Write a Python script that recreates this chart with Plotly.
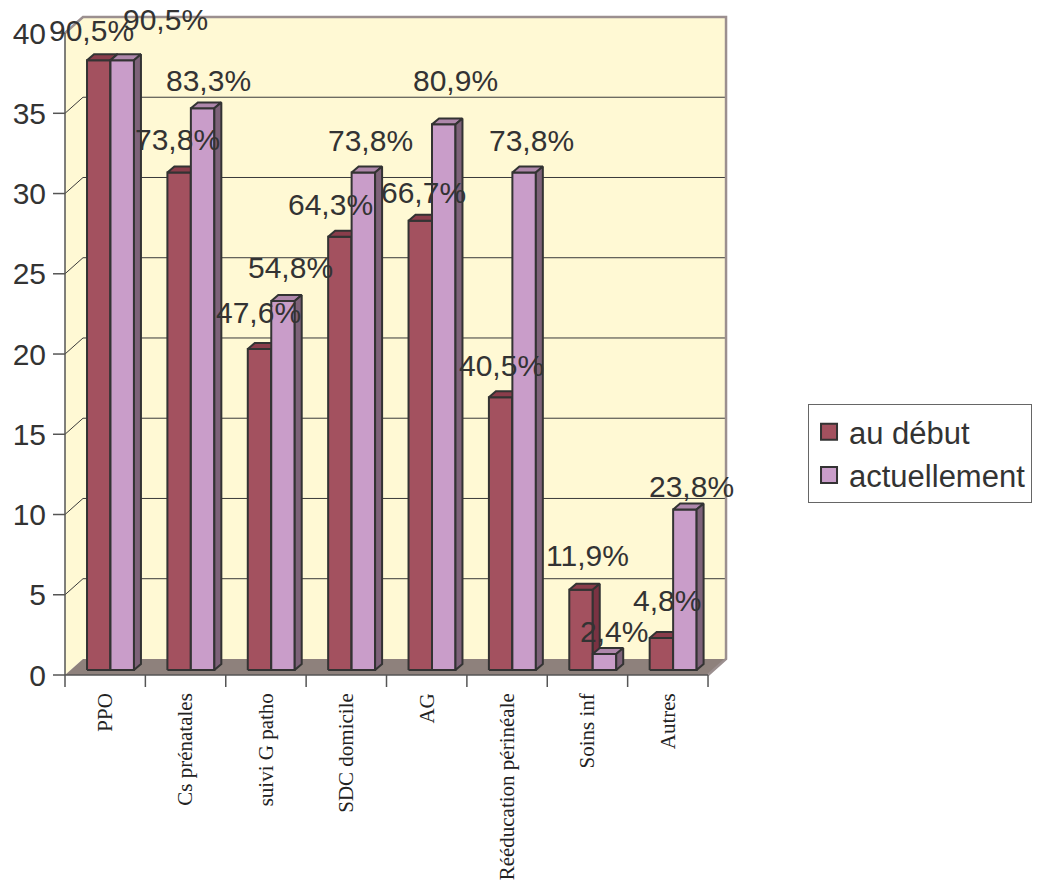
import plotly.graph_objects as go

# ---- data -------------------------------------------------------------
CATEGORIES = ["PPO", "Cs prénatales", "suivi G patho", "SDC domicile", "AG",
              "Rééducation périnéale", "Soins inf", "Autres"]
AU_DEBUT = [38, 31, 20, 27, 28, 17, 5, 2]
ACTUELLEMENT = [38, 35, 23, 31, 34, 31, 1, 10]
PCT_DEBUT = ["90,5%", "73,8%", "47,6%", "64,3%", "66,7%", "40,5%", "11,9%", "4,8%"]
PCT_ACTUEL = ["90,5%", "83,3%", "54,8%", "73,8%", "80,9%", "73,8%", "2,4%", "23,8%"]
Y_TICKS = [0, 5, 10, 15, 20, 25, 30, 35, 40]
SERIES = ["au début", "actuellement"]

# ---- style ------------------------------------------------------------
WALL = "#FFF9D4"
FLOOR = "#8E817C"
EDGE = "#9B8F8F"
OUTLINE = "#333333"
TEXT = "#333333"
FACE = {
    0: dict(front="#A3515F", top="#8A3D4B", side="#7A3242"),
    1: dict(front="#C99DC9", top="#AE87AB", side="#7E6279"),
}
# pixel nudges of the percentage labels (début, actuellement)
NUDGE = [
    [(-13, -2), (37, 9)], [(-8, 1), (0, -4)], [(-7, 5), (2, 1)], [(-15, 0), (1, 0)],
    [(-3, -4), (6, 12)], [(-5, 0), (1, 0)], [(0, 2), (4, -10)], [(0, 5), (1, -9)],
]

# ---- 3-D geometry (data units) ---------------------------------------
N = len(CATEGORIES)
YMAX = Y_TICKS[-1]
DX, DY = 0.224, 1.0        # depth of the walls / floor
FX, FY = 0.069, 0.31       # depth at which the bar fronts stand
TX, TY = 0.087, 0.37       # depth of a bar
BAR_OFF, BW = 0.205, 0.292
TICK_X = 12 / 80.37
TICK_Y = 12 / 16.05

fig = go.Figure()


def poly(points, fill=None, line_color=None, width=0):
    xs, ys = [], []
    for shape in points:
        closed = list(shape) + [shape[0]]
        xs += [p[0] for p in closed] + [None]
        ys += [p[1] for p in closed] + [None]
    fig.add_trace(go.Scatter(
        x=xs, y=ys, mode="lines",
        fill="toself" if fill else None, fillcolor=fill,
        line=dict(color=line_color or "rgba(0,0,0,0)", width=width),
        hoverinfo="skip", showlegend=False))


def lines(segments, color, width):
    xs, ys = [], []
    for seg in segments:
        xs += [p[0] for p in seg] + [None]
        ys += [p[1] for p in seg] + [None]
    fig.add_trace(go.Scatter(x=xs, y=ys, mode="lines",
                             line=dict(color=color, width=width),
                             hoverinfo="skip", showlegend=False))


# walls and floor
poly([[(DX, DY), (N + DX, DY), (N + DX, YMAX + DY), (DX, YMAX + DY)]], fill=WALL)
poly([[(0, 0), (0, YMAX), (DX, YMAX + DY), (DX, DY)]], fill=WALL)
poly([[(0, 0), (N, 0), (N + DX, DY), (DX, DY)]], fill=FLOOR)

# gridlines on back wall + left wall
grid = []
for v in Y_TICKS[1:-1]:
    grid.append([(0, v), (DX, v + DY), (N + DX, v + DY)])
lines(grid, "#3A3A3A", 1)

# wall borders
lines([[(0, YMAX), (DX, YMAX + DY), (N + DX, YMAX + DY), (N + DX, DY), (N, 0)]], EDGE, 2.5)

# bars
for s, values in enumerate([AU_DEBUT, ACTUELLEMENT]):
    fronts, tops, sides = [], [], []
    for c, v in enumerate(values):
        x0 = c + BAR_OFF + s * BW + FX
        x1 = x0 + BW
        y0, y1 = FY, v + FY
        fronts.append([(x0, y0), (x1, y0), (x1, y1), (x0, y1)])
        tops.append([(x0, y1), (x1, y1), (x1 + TX, y1 + TY), (x0 + TX, y1 + TY)])
        sides.append([(x1, y0), (x1 + TX, y0 + TY), (x1 + TX, y1 + TY), (x1, y1)])
    poly(fronts, fill=FACE[s]["front"], line_color=OUTLINE, width=2)
    poly(tops, fill=FACE[s]["top"], line_color=OUTLINE, width=2)
    poly(sides, fill=FACE[s]["side"], line_color=OUTLINE, width=2)

# front axes and tick marks
axis = [[(0, 0), (0, YMAX)], [(0, 0), (N, 0)]]
axis += [[(-TICK_X, v), (0, v)] for v in Y_TICKS]
axis += [[(c, 0), (c, -TICK_Y)] for c in range(N + 1)]
lines(axis, "#555555", 1.5)

# legend entries
for s, name in enumerate(SERIES):
    fig.add_trace(go.Scatter(
        x=[None], y=[None], mode="markers", name=name,
        marker=dict(symbol="square", size=16, color=FACE[s]["front"],
                    line=dict(color=OUTLINE, width=2))))

# percentage labels
for s, (values, labels) in enumerate([(AU_DEBUT, PCT_DEBUT), (ACTUELLEMENT, PCT_ACTUEL)]):
    for c, (v, t) in enumerate(zip(values, labels)):
        ndx, ndy = NUDGE[c][s]
        fig.add_annotation(
            x=c + BAR_OFF + s * BW + BW / 2 + FX, y=v + FY,
            text=t, showarrow=False, xanchor="center", yanchor="middle",
            xshift=6 + ndx, yshift=32 + ndy,
            font=dict(family="Liberation Sans, Arial, sans-serif", size=30, color=TEXT))

fig.update_layout(
    width=1037, height=882,
    margin=dict(l=49, r=308, t=14, b=194, autoexpand=False),
    paper_bgcolor="white", plot_bgcolor="white",
    showlegend=True,
    legend=dict(x=1.1162, y=0.4214, xanchor="left", yanchor="top",
                bgcolor="white", bordercolor="#666666", borderwidth=1,
                font=dict(family="Liberation Sans, Arial, sans-serif", size=31, color=TEXT),
                tracegroupgap=0),
    xaxis=dict(range=[-0.199, 8.261], tickvals=[c + 0.5 for c in range(N)],
               ticktext=CATEGORIES, tickangle=-90, ticks="", showgrid=False,
               zeroline=False, showline=False, automargin=False, fixedrange=True,
               ticklabelstandoff=0,
               tickfont=dict(family="Liberation Serif, Times New Roman, serif", size=21,
                             color="#222222")),
    yaxis=dict(range=[-0.81, 41.187], tickvals=Y_TICKS, ticks="", showgrid=False,
               zeroline=False, showline=False, automargin=False, fixedrange=True,
               ticklabelstandoff=2,
               tickfont=dict(family="Liberation Sans, Arial, sans-serif", size=30,
                             color=TEXT)),
)

fig.write_html("out.html")
